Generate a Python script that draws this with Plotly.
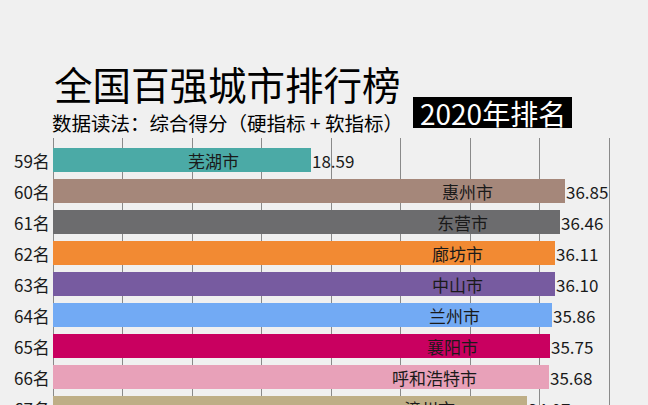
import plotly.graph_objects as go

ranks = [59, 60, 61, 62, 63, 64, 65, 66, 67]
rank_labels = ["59名", "60名", "61名", "62名", "63名", "64名", "65名", "66名", "67名"]
cities = ["芜湖市", "惠州市", "东营市", "廊坊市", "中山市", "兰州市", "襄阳市", "呼和浩特市", "漳州市"]
scores = [18.59, 36.85, 36.46, 36.11, 36.10, 35.86, 35.75, 35.68, 34.07]
colors = ["#4BAAA6", "#A5877A", "#6C6C6E", "#F28A33", "#775BA0",
          "#72AAF4", "#C90060", "#E8A1B9", "#BEAE86"]

FONT = "Noto Sans CJK SC"
BG = "#F0F0F0"

W, H = 648, 405
L, R, T, B = 53, 0, 138, 0
pw, ph = W - L - R, H - T - B
Y_RANGE = [66.90, 58.29]  # reversed axis (bottom, top)


def ypaper(r):
    # map a rank value through the y-axis range into paper coordinates
    return (Y_RANGE[0] - r) / (Y_RANGE[0] - Y_RANGE[1])


def px_to_paper(xp, yp):
    return (xp - L) / pw, ((H - yp) - B) / ph


fig = go.Figure()
fig.add_trace(go.Bar(
    x=scores, y=ranks, orientation="h",
    marker=dict(color=colors, line=dict(width=0)),
    width=0.755, hoverinfo="skip", cliponaxis=True,
))

annotations = []
shapes = []
for r, lab, c, s in zip(ranks, rank_labels, cities, scores):
    yp = ypaper(r)
    annotations.append(dict(
        x=s, y=yp, xref="x", yref="paper", text=c, showarrow=False,
        xanchor="right", yanchor="middle", xshift=-70,
        font=dict(family=FONT, size=17, color="#1a1a1a"),
    ))
    annotations.append(dict(
        x=s, y=yp, xref="x", yref="paper", text=f"{s:.2f}", showarrow=False,
        xanchor="left", yanchor="middle", xshift=-1,
        font=dict(family=FONT, size=17, color="#1a1a1a"),
    ))
    annotations.append(dict(
        x=0, y=yp, xref="paper", yref="paper", text=lab, showarrow=False,
        xanchor="right", yanchor="middle", xshift=-1,
        font=dict(family=FONT, size=17, color="#1a1a1a"),
    ))

tx, ty = px_to_paper(53, 83)
annotations.append(dict(
    x=tx, y=ty, xref="paper", yref="paper", text="全国百强城市排行榜",
    showarrow=False, xanchor="left", yanchor="middle", borderpad=0,
    font=dict(family=FONT, size=38.5, color="#000000"),
))
sx, sy = px_to_paper(51, 122.5)
annotations.append(dict(
    x=sx, y=sy, xref="paper", yref="paper",
    text="数据读法：综合得分（硬指标 + 软指标）",
    showarrow=False, xanchor="left", yanchor="middle", borderpad=0,
    font=dict(family=FONT, size=19.5, color="#000000"),
))
bx0, by0 = px_to_paper(413, 128)
bx1, by1 = px_to_paper(572, 97)
shapes.append(dict(
    type="rect", xref="paper", yref="paper", x0=bx0, x1=bx1, y0=by0, y1=by1,
    fillcolor="#000000", line=dict(width=0), layer="above",
))
cx, cy = px_to_paper(492.5, 113)
annotations.append(dict(
    x=cx, y=cy, xref="paper", yref="paper", text="2020年排名",
    showarrow=False, xanchor="center", yanchor="middle",
    font=dict(family=FONT, size=28, color="#FFFFFF"),
))

fig.update_layout(
    width=W, height=H,
    margin=dict(l=L, r=R, t=T, b=B),
    paper_bgcolor=BG, plot_bgcolor=BG,
    showlegend=False,
    annotations=annotations,
    shapes=shapes,
    bargap=0,
    font=dict(family=FONT),
)
fig.update_xaxes(
    range=[0, 42.8], dtick=5, tick0=0, showgrid=True, gridcolor="#8a8a8a",
    gridwidth=1, zeroline=True, zerolinecolor="#8a8a8a", zerolinewidth=1,
    showticklabels=False, showline=False, ticks="", fixedrange=True,
)
fig.update_yaxes(
    range=Y_RANGE, tickvals=ranks, showticklabels=False,
    showgrid=False, zeroline=False, showline=False, ticks="",
    fixedrange=True,
)

fig.write_html("out.html")
